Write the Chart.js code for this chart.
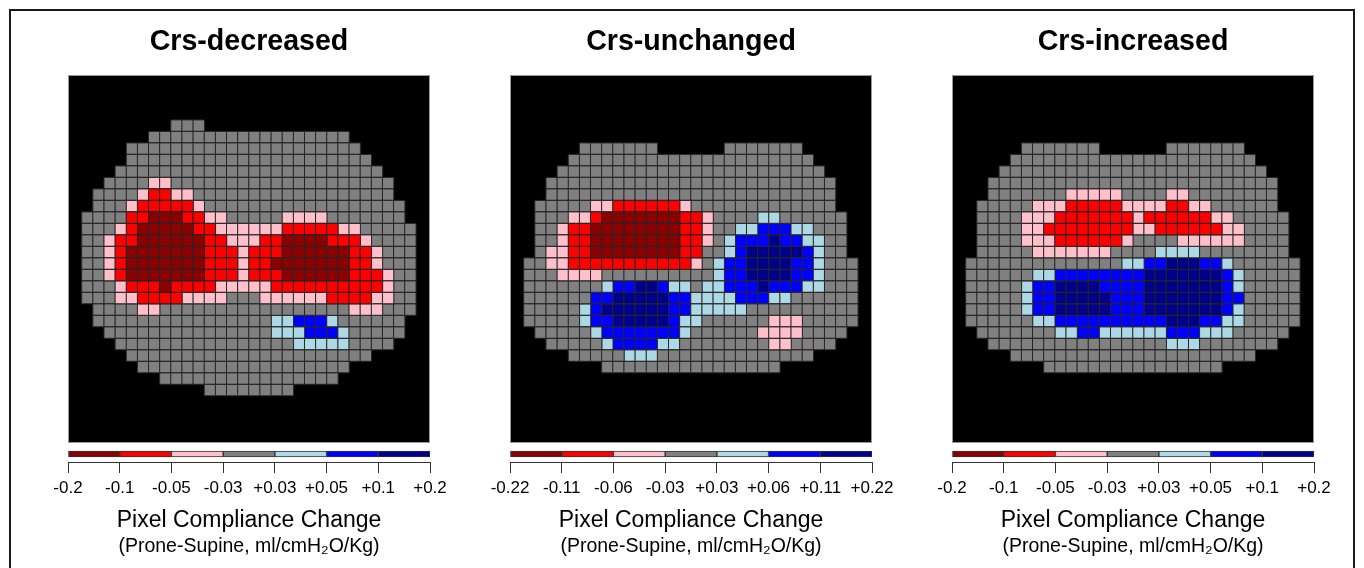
<!DOCTYPE html>
<html>
<head>
<meta charset="utf-8">
<script src="https://cdn.jsdelivr.net/npm/chart.js@4.4.1/dist/chart.umd.min.js"></script>
<style>
  body { margin: 0; background: #fff; width: 1364px; height: 568px; overflow: hidden; position: relative; }
  #frame { position: absolute; left: 9px; top: 9px; width: 1342px; height: 620px; border: 2px solid #1a1a1a; border-bottom: none; }
  .map { position: absolute; top: 20px; width: 382px; height: 425px; }
  .bar { position: absolute; top: 440px; width: 422px; height: 128px; }
</style>
</head>
<body>
<div id="frame"></div>
<div class="map" style="left:58px"><canvas id="map1"></canvas></div>
<div class="map" style="left:500px"><canvas id="map2"></canvas></div>
<div class="map" style="left:942px"><canvas id="map3"></canvas></div>
<div class="bar" style="left:38px"><canvas id="bar1"></canvas></div>
<div class="bar" style="left:480px"><canvas id="bar2"></canvas></div>
<div class="bar" style="left:922px"><canvas id="bar3"></canvas></div>
<script>
const FONT = '"Liberation Sans", Arial, Helvetica, sans-serif';

// colour bins of the colour bar, left to right (1..7), 4 = unchanged
const binColors = ['#8B0000', '#FF0000', '#FFC0CB', '#808080', '#ADD8E6', '#0000FF', '#00008B'];

const panelTitles = ['Crs-decreased', 'Crs-unchanged', 'Crs-increased'];
const ticksDecreased = ['-0.2', '-0.1', '-0.05', '-0.03', '+0.03', '+0.05', '+0.1', '+0.2'];
const ticksUnchanged = ['-0.22', '-0.11', '-0.06', '-0.03', '+0.03', '+0.06', '+0.11', '+0.22'];
const ticksIncreased = ['-0.2', '-0.1', '-0.05', '-0.03', '+0.03', '+0.05', '+0.1', '+0.2'];

// lung mask on the 32x32 EIT grid: [row, firstCol, lastCol]
const mask1 = [
  [4, 9, 11], [5, 7, 24], [6, 5, 25], [7, 5, 26], [8, 4, 27], [9, 3, 28], [10, 2, 28], [11, 2, 29],
  [12, 1, 29], [13, 1, 30], [14, 1, 30], [15, 1, 30], [16, 1, 30], [17, 1, 30], [18, 1, 30], [19, 1, 30],
  [20, 2, 30], [21, 2, 29], [22, 3, 29], [23, 4, 28], [24, 5, 26], [25, 6, 24], [26, 8, 23], [27, 12, 19]
];
// same mask for the second and third patient groups
const mask23 = [
  [6, 6, 12], [6, 19, 25], [7, 5, 26], [8, 4, 27], [9, 3, 28], [10, 3, 28], [11, 2, 28], [12, 2, 29],
  [13, 2, 29], [14, 2, 29], [15, 2, 29], [16, 1, 30], [17, 1, 30], [18, 1, 30], [19, 1, 30], [20, 1, 30],
  [21, 1, 30], [22, 2, 29], [23, 3, 28], [24, 5, 26], [25, 8, 23]
];

// pixels that left the unchanged bin: [row, firstCol, lastCol, bin]
const runs1 = [
  [9, 7, 8, 3],
  [10, 6, 6, 3], [10, 7, 8, 2], [10, 9, 10, 3],
  [11, 5, 5, 3], [11, 6, 10, 2], [11, 11, 11, 3],
  [12, 5, 6, 2], [12, 7, 9, 1], [12, 10, 11, 2], [12, 12, 13, 3], [12, 19, 22, 3],
  [13, 4, 4, 3], [13, 5, 5, 2], [13, 6, 10, 1], [13, 11, 12, 2], [13, 13, 18, 3], [13, 19, 23, 2], [13, 24, 25, 3],
  [14, 3, 3, 3], [14, 4, 5, 2], [14, 6, 11, 1], [14, 12, 13, 2], [14, 14, 16, 3], [14, 17, 18, 2], [14, 19, 22, 1], [14, 23, 25, 2], [14, 26, 26, 3],
  [15, 3, 3, 3], [15, 4, 4, 2], [15, 5, 11, 1], [15, 12, 14, 2], [15, 15, 15, 3], [15, 16, 18, 2], [15, 19, 24, 1], [15, 25, 26, 2], [15, 27, 27, 3],
  [16, 3, 3, 3], [16, 4, 4, 2], [16, 5, 11, 1], [16, 12, 14, 2], [16, 15, 15, 3], [16, 16, 17, 2], [16, 18, 24, 1], [16, 25, 26, 2], [16, 27, 27, 3],
  [17, 3, 3, 3], [17, 4, 4, 2], [17, 5, 11, 1], [17, 12, 14, 2], [17, 15, 15, 3], [17, 16, 18, 2], [17, 19, 24, 1], [17, 25, 27, 2], [17, 28, 28, 3],
  [18, 4, 4, 3], [18, 5, 7, 2], [18, 8, 8, 1], [18, 9, 12, 2], [18, 13, 17, 3], [18, 18, 27, 2], [18, 28, 28, 3],
  [19, 4, 5, 3], [19, 6, 9, 2], [19, 10, 13, 3], [19, 17, 22, 3], [19, 23, 26, 2], [19, 27, 28, 3],
  [20, 6, 7, 3], [20, 25, 27, 3],
  [21, 18, 19, 5], [21, 20, 22, 6], [21, 23, 23, 5],
  [22, 18, 20, 5], [22, 21, 23, 6], [22, 24, 24, 5],
  [23, 20, 24, 5]
];
const runs2 = [
  [11, 7, 8, 3], [11, 9, 14, 2], [11, 15, 15, 3],
  [12, 5, 6, 3], [12, 7, 7, 2], [12, 8, 14, 1], [12, 15, 16, 2], [12, 17, 17, 3], [12, 22, 23, 5],
  [13, 4, 4, 3], [13, 5, 6, 2], [13, 7, 14, 1], [13, 15, 16, 2], [13, 17, 17, 3], [13, 20, 21, 5], [13, 22, 24, 6], [13, 25, 26, 5],
  [14, 4, 4, 3], [14, 5, 6, 2], [14, 7, 14, 1], [14, 15, 16, 2], [14, 17, 17, 3], [14, 19, 19, 5], [14, 20, 22, 6], [14, 23, 23, 7], [14, 24, 25, 6], [14, 26, 27, 5],
  [15, 3, 4, 3], [15, 5, 6, 2], [15, 7, 14, 1], [15, 15, 16, 2], [15, 19, 19, 5], [15, 20, 20, 6], [15, 21, 25, 7], [15, 26, 26, 6], [15, 27, 27, 5],
  [16, 3, 4, 3], [16, 5, 15, 2], [16, 16, 16, 3], [16, 18, 18, 5], [16, 19, 20, 6], [16, 21, 24, 7], [16, 25, 26, 6], [16, 27, 27, 5],
  [17, 4, 7, 3], [17, 18, 18, 5], [17, 19, 20, 6], [17, 21, 24, 7], [17, 25, 26, 6], [17, 27, 27, 5],
  [18, 8, 8, 5], [18, 9, 10, 6], [18, 11, 12, 7], [18, 13, 13, 6], [18, 14, 15, 5], [18, 17, 18, 5], [18, 19, 21, 6], [18, 22, 22, 7], [18, 23, 25, 6], [18, 26, 27, 5],
  [19, 7, 8, 6], [19, 9, 13, 7], [19, 14, 15, 6], [19, 16, 19, 5], [19, 20, 22, 6], [19, 23, 24, 5],
  [20, 6, 6, 5], [20, 7, 7, 6], [20, 8, 13, 7], [20, 14, 15, 6], [20, 16, 20, 5],
  [21, 6, 6, 5], [21, 7, 8, 6], [21, 9, 13, 7], [21, 14, 14, 6], [21, 15, 16, 5], [21, 23, 25, 3],
  [22, 7, 7, 5], [22, 8, 14, 6], [22, 15, 15, 5], [22, 22, 25, 3],
  [23, 8, 8, 5], [23, 9, 12, 6], [23, 13, 14, 5], [23, 23, 24, 3],
  [24, 10, 12, 5]
];
const runs3 = [
  [10, 10, 14, 3], [10, 19, 20, 3],
  [11, 7, 9, 3], [11, 10, 14, 2], [11, 15, 18, 3], [11, 19, 20, 2], [11, 21, 22, 3],
  [12, 6, 8, 3], [12, 9, 15, 2], [12, 16, 16, 3], [12, 17, 22, 2], [12, 23, 24, 3],
  [13, 6, 7, 3], [13, 8, 15, 2], [13, 16, 17, 3], [13, 18, 23, 2], [13, 24, 25, 3],
  [14, 6, 8, 3], [14, 9, 14, 2], [14, 15, 15, 3], [14, 20, 25, 3],
  [15, 7, 13, 3], [15, 18, 21, 5],
  [16, 15, 16, 5], [16, 17, 18, 6], [16, 19, 21, 7], [16, 22, 23, 6], [16, 24, 24, 5],
  [17, 7, 8, 5], [17, 9, 16, 6], [17, 17, 23, 7], [17, 24, 24, 6], [17, 25, 25, 5],
  [18, 6, 6, 5], [18, 7, 8, 6], [18, 9, 12, 7], [18, 13, 16, 6], [18, 17, 23, 7], [18, 24, 24, 6], [18, 25, 25, 5],
  [19, 6, 6, 5], [19, 7, 8, 6], [19, 9, 13, 7], [19, 14, 16, 6], [19, 17, 23, 7], [19, 24, 25, 6],
  [20, 6, 6, 5], [20, 7, 8, 6], [20, 9, 13, 7], [20, 14, 16, 6], [20, 17, 23, 7], [20, 24, 24, 6], [20, 25, 25, 5],
  [21, 7, 8, 5], [21, 9, 18, 6], [21, 19, 21, 7], [21, 22, 23, 6], [21, 24, 25, 5],
  [22, 9, 10, 5], [22, 11, 12, 6], [22, 13, 18, 5], [22, 19, 21, 6], [22, 22, 24, 5],
  [23, 19, 21, 5]
];

// grid -> one point list per colour bin
function cellsByBin(mask, runs) {
  const grid = {};
  mask.forEach(([r, c0, c1]) => { for (let c = c0; c <= c1; c++) grid[r + ',' + c] = 4; });
  runs.forEach(([r, c0, c1, b]) => { for (let c = c0; c <= c1; c++) grid[r + ',' + c] = b; });
  const out = binColors.map(() => []);
  Object.keys(grid).forEach(k => {
    const [r, c] = k.split(',').map(Number);
    out[grid[k] - 1].push({ x: c, y: r });
  });
  return out;
}

// square cell as wide as one grid step
function cellRadius(ctx) {
  const s = ctx.chart.scales.x;
  return (s.getPixelForValue(1) - s.getPixelForValue(0)) * 1.02 / Math.SQRT2;
}

const blackPanel = {
  id: 'blackPanel',
  beforeDatasetsDraw(chart) {
    const { ctx, chartArea: a } = chart;
    ctx.save();
    ctx.fillStyle = '#000';
    ctx.fillRect(a.left, a.top, a.width, a.height);
    ctx.strokeStyle = '#9a9a9a';
    ctx.lineWidth = 1;
    ctx.strokeRect(a.left + 0.5, a.top + 0.5, a.width - 1, a.height - 1);
    ctx.restore();
  }
};

function buildMap(id, title, mask, runs) {
  const bins = cellsByBin(mask, runs);
  new Chart(document.getElementById(id), {
    type: 'scatter',
    data: {
      datasets: binColors.map((col, i) => ({
        data: bins[i],
        backgroundColor: col,
        borderColor: '#262626',
        borderWidth: 1,
        pointStyle: 'rect',
        pointRadius: cellRadius,
        pointHoverRadius: cellRadius
      }))
    },
    options: {
      responsive: true,
      maintainAspectRatio: false,
      animation: false,
      events: [],
      layout: { padding: { left: 10, right: 10, bottom: 2 } },
      scales: {
        x: { type: 'linear', min: -0.74, max: 31.76, display: false },
        y: { type: 'linear', min: -0.4, max: 31.6, reverse: true, display: false }
      },
      plugins: {
        legend: { display: false },
        tooltip: { enabled: false },
        title: {
          display: true,
          text: title,
          color: '#000',
          font: { family: FONT, size: 28.6, weight: 'bold' },
          padding: { top: 5, bottom: 15.7 }
        }
      }
    },
    plugins: [blackPanel]
  });
}

function buildBar(id, labels) {
  new Chart(document.getElementById(id), {
    type: 'bar',
    data: {
      labels: [''],
      datasets: binColors.map(col => ({
        data: [1],
        backgroundColor: col,
        borderColor: '#333',
        borderWidth: 1,
        borderSkipped: false,
        barThickness: 6
      }))
    },
    options: {
      indexAxis: 'y',
      responsive: true,
      maintainAspectRatio: false,
      animation: false,
      events: [],
      layout: { padding: { left: 30, right: 30, top: 6, bottom: 9.6 } },
      scales: {
        x: {
          type: 'linear',
          stacked: true,
          min: 0,
          max: 7,
          // the layout caps a bottom axis at half the canvas; give it the room it needs
          afterFit: scale => { scale.height = 72; },
          grid: { drawOnChartArea: false, drawTicks: true, tickLength: 11, tickColor: '#333', tickWidth: 1 },
          border: { display: true, color: '#333', width: 1 },
          ticks: {
            stepSize: 1,
            autoSkip: false,
            maxRotation: 0,
            padding: 5,
            color: '#000',
            font: { family: FONT, size: 17 },
            callback: v => labels[v]
          },
          title: {
            display: true,
            text: 'Pixel Compliance Change',
            color: '#000',
            font: { family: FONT, size: 23 },
            padding: { top: 7, bottom: 0 }
          }
        },
        y: { stacked: true, display: false }
      },
      plugins: {
        legend: { display: false },
        tooltip: { enabled: false },
        subtitle: {
          display: true,
          position: 'bottom',
          text: '(Prone-Supine, ml/cmH\u2082O/Kg)',
          color: '#000',
          font: { family: FONT, size: 19.5 },
          padding: { top: 1, bottom: 0 }
        }
      }
    }
  });
}

buildMap('map1', panelTitles[0], mask1, runs1);
buildMap('map2', panelTitles[1], mask23, runs2);
buildMap('map3', panelTitles[2], mask23, runs3);
buildBar('bar1', ticksDecreased);
buildBar('bar2', ticksUnchanged);
buildBar('bar3', ticksIncreased);
</script>
</body>
</html>
